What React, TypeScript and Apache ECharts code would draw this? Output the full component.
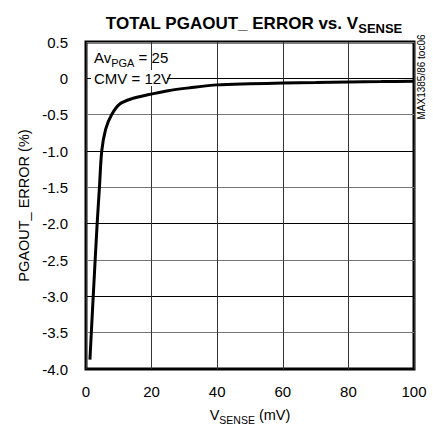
import React, { useEffect, useRef } from "react";
import * as echarts from "echarts";

const vSense = [1.2, 2.2, 3.4, 4.1, 4.8, 6, 7.8, 10.4, 14, 18.5, 25, 31.7, 40, 50, 60, 70, 80, 90, 100];
const errorPct = [-3.87, -3.0, -2.0, -1.5, -1.0, -0.7, -0.5, -0.35, -0.28, -0.23, -0.17, -0.13, -0.09, -0.075, -0.065, -0.058, -0.05, -0.045, -0.04];
const xTicks = [0, 20, 40, 60, 80, 100];
const yTicks = [0.5, 0, -0.5, -1.0, -1.5, -2.0, -2.5, -3.0, -3.5, -4.0];

const FONT = "'Liberation Sans', Arial, sans-serif";

export default function App() {
  const ref = useRef<HTMLDivElement>(null);
  useEffect(() => {
    if (!ref.current) return;
    const chart = echarts.init(ref.current, undefined, { renderer: "svg" });
    const yLabel = (v: number) => {
      const found = yTicks.find((t) => Math.abs(t - v) < 1e-6);
      if (found === undefined) return "";
      if (found === 0) return "0";
      return found.toFixed(1);
    };
    chart.setOption({
      animation: false,
      backgroundColor: "#fff",
      title: {
        text: "{a|TOTAL PGAOUT_ ERROR vs. V}{b|SENSE}",
        left: 249,
        top: 7,
        textAlign: "center",
        textStyle: {
          rich: {
            a: { fontFamily: FONT, fontWeight: "bold", fontSize: 17, color: "#000", verticalAlign: "bottom", lineHeight: 20 },
            b: { fontFamily: FONT, fontWeight: "bold", fontSize: 13, color: "#000", verticalAlign: "bottom", lineHeight: 20, padding: [0, 0, -3, 0] },
          },
        },
      },
      grid: { left: 86, right: 19, top: 42, bottom: 60, show: true, borderColor: "#000", borderWidth: 3, backgroundColor: "transparent" },
      xAxis: {
        type: "value",
        min: 0,
        max: 100,
        interval: 20,
        name: "{a|V}{b|SENSE}{a| (mV)}",
        nameLocation: "middle",
        nameGap: 36,
        nameTextStyle: {
          rich: {
            a: { fontFamily: FONT, fontSize: 14.5, color: "#000", verticalAlign: "bottom", lineHeight: 17 },
            b: { fontFamily: FONT, fontSize: 10.5, color: "#000", verticalAlign: "bottom", lineHeight: 17, padding: [0, 0, -3, 0] },
          },
        },
        axisLine: { show: false },
        axisTick: { show: false },
        axisLabel: {
          fontFamily: FONT,
          fontSize: 15,
          color: "#000",
          margin: 15,
          formatter: (v: number) => (xTicks.includes(v) ? String(v) : ""),
        },
        splitLine: { show: true, lineStyle: { color: "#333", width: 1 } },
      },
      yAxis: {
        type: "value",
        min: -4,
        max: 0.5,
        interval: 0.5,
        name: "PGAOUT_ ERROR (%)",
        nameLocation: "middle",
        nameGap: 54,
        nameTextStyle: { fontFamily: FONT, fontSize: 14.5, color: "#000" },
        axisLine: { show: false },
        axisTick: { show: false },
        axisLabel: { fontFamily: FONT, fontSize: 15, color: "#000", margin: 18, formatter: yLabel },
        splitLine: { show: true, lineStyle: { color: ["#000", "#777"], width: 1 } },
      },
      graphic: [
        {
          type: "rect",
          z: 10,
          shape: { x: 91, y: 70, width: 76, height: 16 },
          style: { fill: "#fff" },
        },
        {
          type: "text",
          z: 11,
          x: 94,
          y: 57,
          style: {
            text: "{a|Av}{b|PGA}{a| = 25}",
            textVerticalAlign: "middle",
            rich: {
              a: { fontFamily: FONT, fontSize: 15, fill: "#000", verticalAlign: "bottom", lineHeight: 16 },
              b: { fontFamily: FONT, fontSize: 11, fill: "#000", verticalAlign: "bottom", lineHeight: 16, padding: [0, 0, -3, 0] },
            },
          },
        },
        {
          type: "text",
          z: 11,
          x: 94,
          y: 78,
          style: { text: "CMV = 12V", fontFamily: FONT, fontSize: 15, fill: "#000", textVerticalAlign: "middle" },
        },
        {
          type: "text",
          z: 11,
          x: 421,
          y: 77,
          rotation: Math.PI / 2,
          style: { text: "MAX1385/86 toc06", fontFamily: FONT, fontSize: 10, fill: "#000", textAlign: "center", textVerticalAlign: "middle" },
        },
      ],
      series: [
        {
          type: "line",
          data: vSense.map((v, i) => [v, errorPct[i]]),
          showSymbol: false,
          smooth: 0.3,
          lineStyle: { color: "#000", width: 3 },
          z: 5,
        },
      ],
    });
    return () => chart.dispose();
  }, []);
  return <div ref={ref} style={{ width: 433, height: 430, position: "absolute", left: 0, top: 0 }} />;
}
